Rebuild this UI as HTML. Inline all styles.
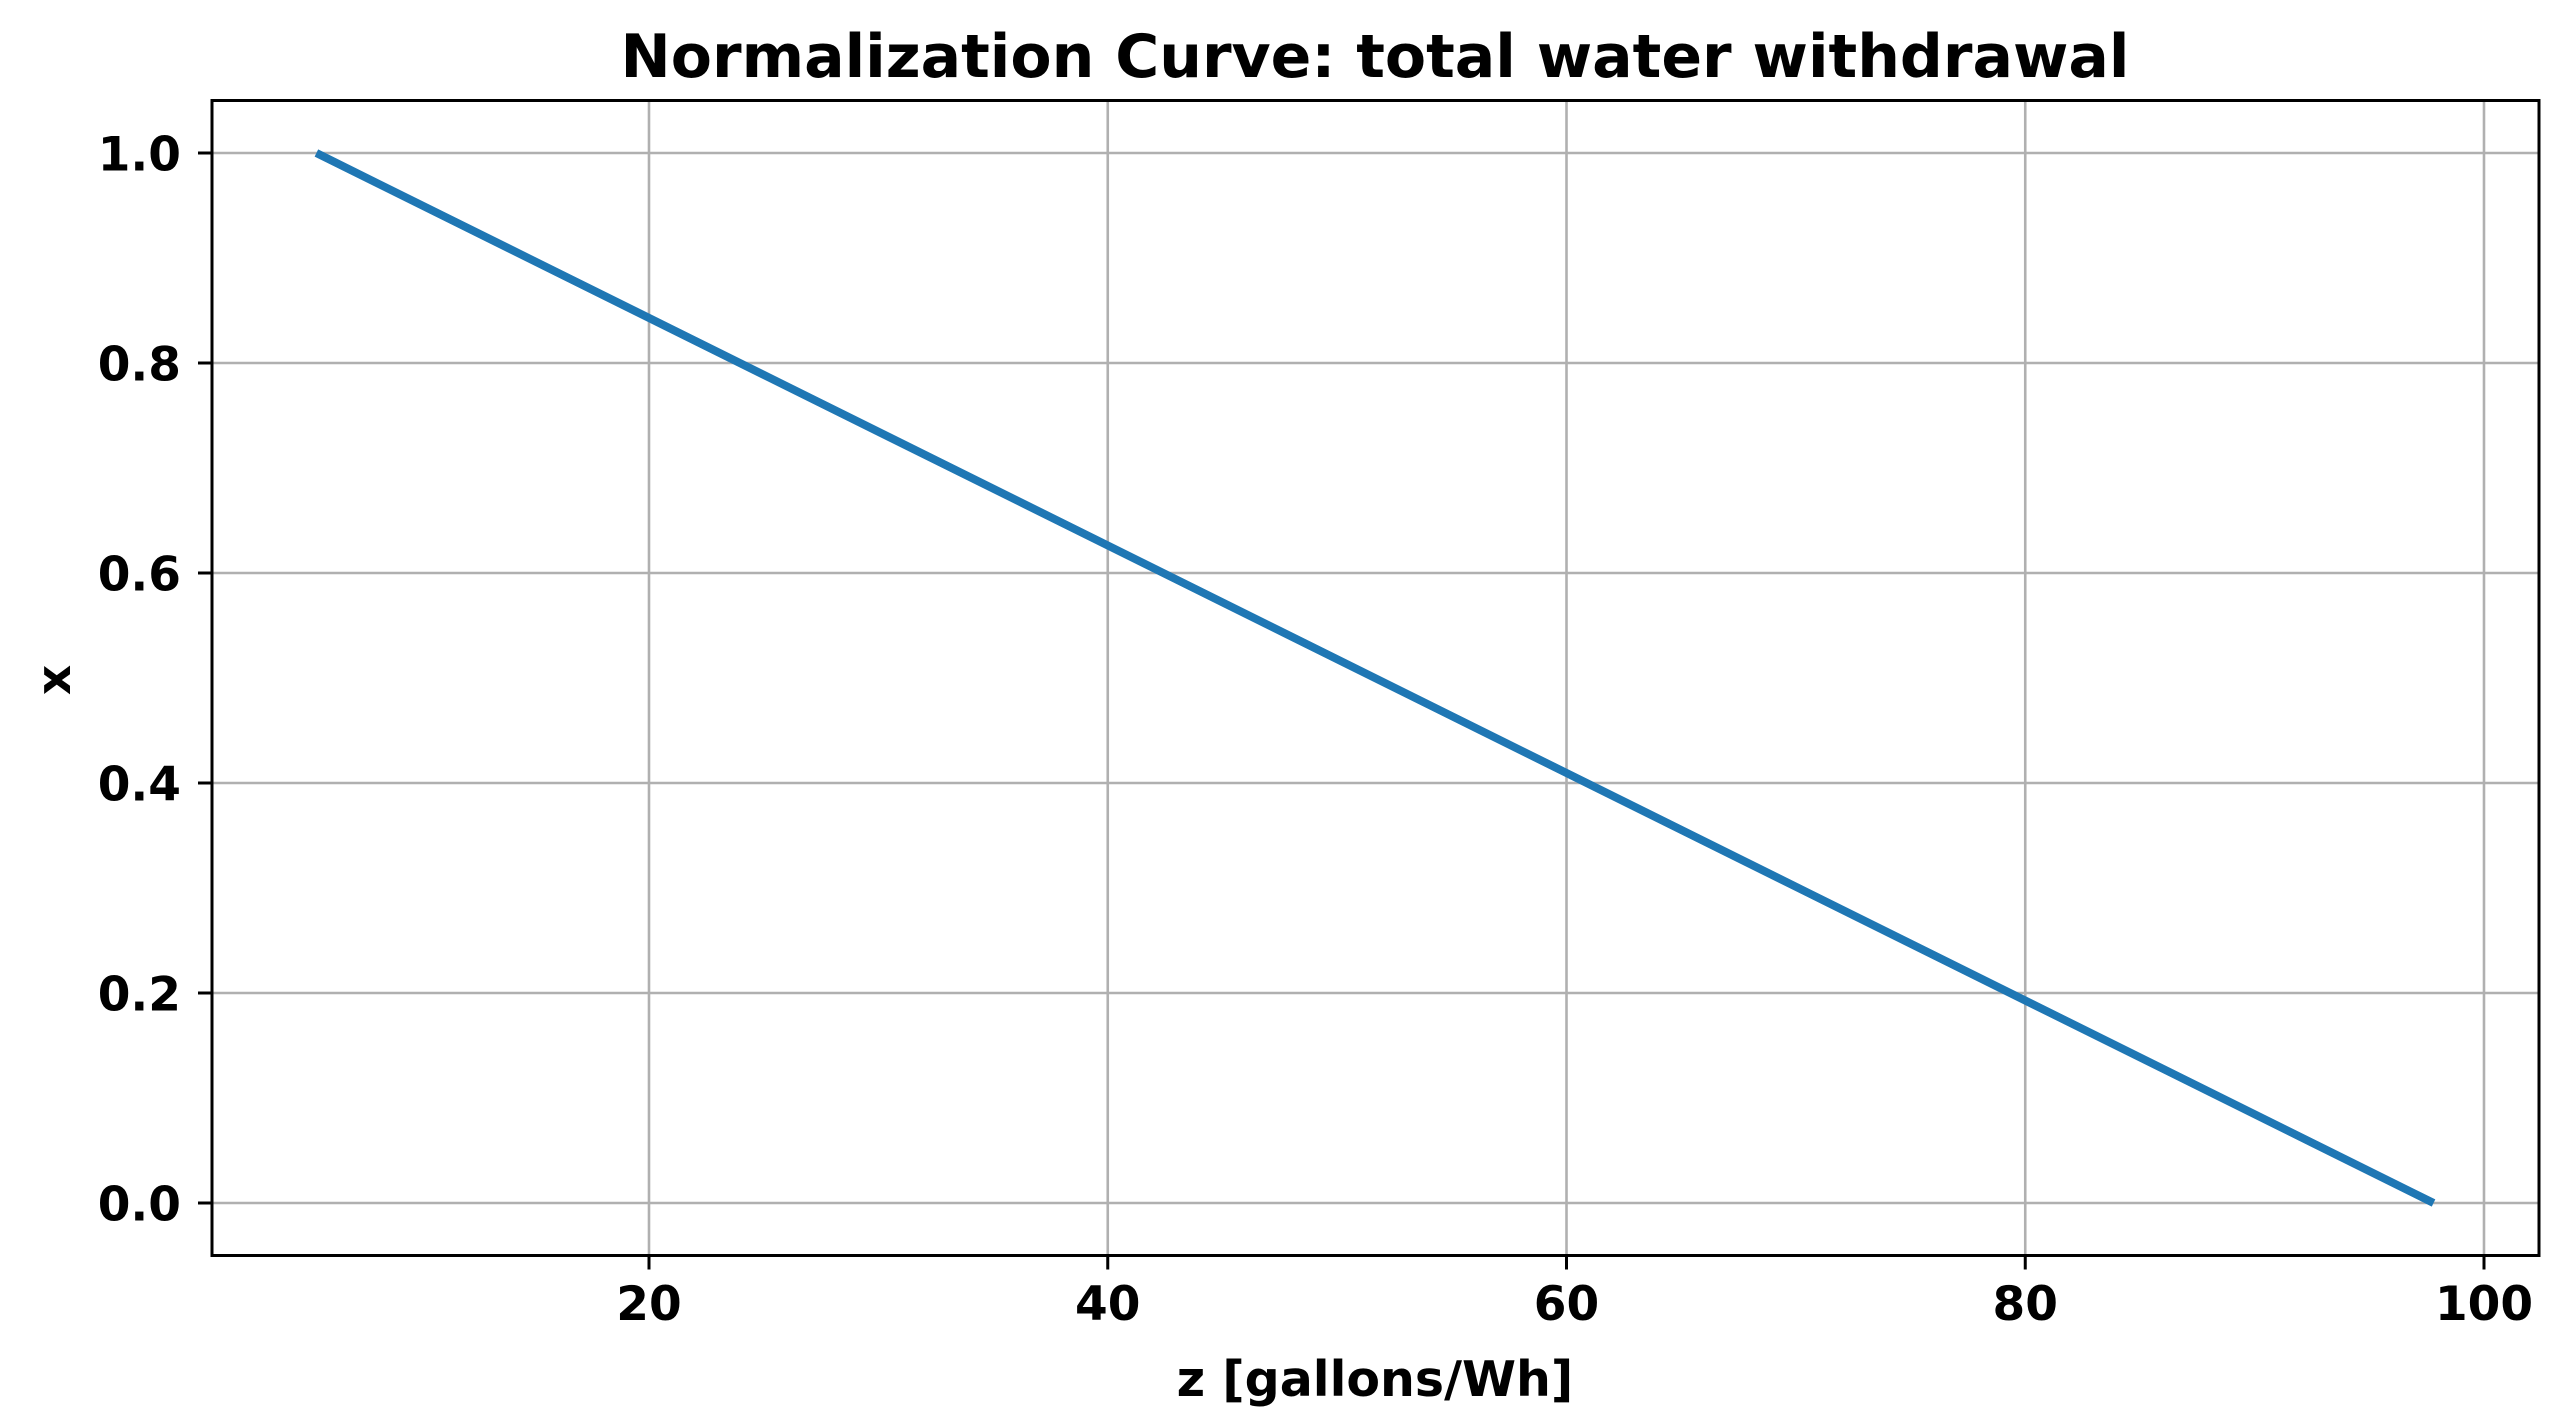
<!DOCTYPE html>
<html><head><meta charset="utf-8"><style>
html,body{margin:0;padding:0;background:#fff;}
svg{display:block;font-family:"DejaVu Sans","Liberation Sans",sans-serif;font-weight:bold;}
</style></head><body>
<svg id="chart" width="2567" height="1427" viewBox="0 0 2567 1427" xmlns="http://www.w3.org/2000/svg">
<rect width="2567" height="1427" fill="#fff"/>
<g id="grid"></g>
<g id="series"></g>
<rect x="212" y="100.5" width="2327" height="1155" fill="none" stroke="#000" stroke-width="3"/>
<g id="ticks"></g>
<text x="1375" y="77" font-size="60" text-anchor="middle">Normalization Curve: total water withdrawal</text>
<text x="1375" y="1396" font-size="49" text-anchor="middle">z [gallons/Wh]</text>
<text x="0" y="0" font-size="47" text-anchor="middle" transform="translate(70,680) rotate(-90)">x</text>
</svg>
<script>
const xTicks = [20, 40, 60, 80, 100];
const yTicks = [0.0, 0.2, 0.4, 0.6, 0.8, 1.0];
const yTickLabels = ["0.0", "0.2", "0.4", "0.6", "0.8", "1.0"];
const zValues = [5.5, 97.8];
const xValues = [1.0, 0.0];

const X0 = 649, X1 = 2484;
function sx(v){ return X0 + (v - 20) * (X1 - X0) / 80; }
function sy(v){ return 1203 - v * 1050; }
const NS = "http://www.w3.org/2000/svg";
function mk(tag, attrs){ const e = document.createElementNS(NS, tag); for (const k in attrs) e.setAttribute(k, attrs[k]); return e; }
const gridG = document.getElementById('grid'), ticksG = document.getElementById('ticks'), seriesG = document.getElementById('series');
const axTop = 100.5, axBot = 1255.5, axLeft = 212, axRight = 2539;
xTicks.forEach(t => {
  const x = sx(t);
  const g = mk('line', {x1:x, x2:x, y1:axTop, y2:axBot, stroke:'#b0b0b0', 'stroke-width':2.6});
  
  
  gridG.appendChild(g);
  const tk = mk('line', {x1:x, x2:x, y1:axBot, y2:axBot+14, stroke:'#000', 'stroke-width':3});
  
  
  ticksG.appendChild(tk);
  const tx = mk('text', {x:x, y:1320, 'font-size':47, 'text-anchor':'middle'});
  tx.textContent = String(t);
  
  
  ticksG.appendChild(tx);
});
yTicks.forEach((t, i) => {
  const y = sy(t);
  const g = mk('line', {x1:axLeft, x2:axRight, y1:y, y2:y, stroke:'#b0b0b0', 'stroke-width':2.6});
  
  
  gridG.appendChild(g);
  const tk = mk('line', {x1:axLeft-14, x2:axLeft, y1:y, y2:y, stroke:'#000', 'stroke-width':3});
  
  
  ticksG.appendChild(tk);
  const tx = mk('text', {x:181, y:y+17.5, 'font-size':47, 'text-anchor':'end'});
  tx.textContent = yTickLabels[i];
  
  
  ticksG.appendChild(tx);
});
const pts = zValues.map((z, i) => sx(z) + ',' + sy(xValues[i])).join(' ');
const line = mk('polyline', {points:pts, fill:'none', stroke:'#1f77b4', 'stroke-width':8});


seriesG.appendChild(line);
</script>
</body></html>
